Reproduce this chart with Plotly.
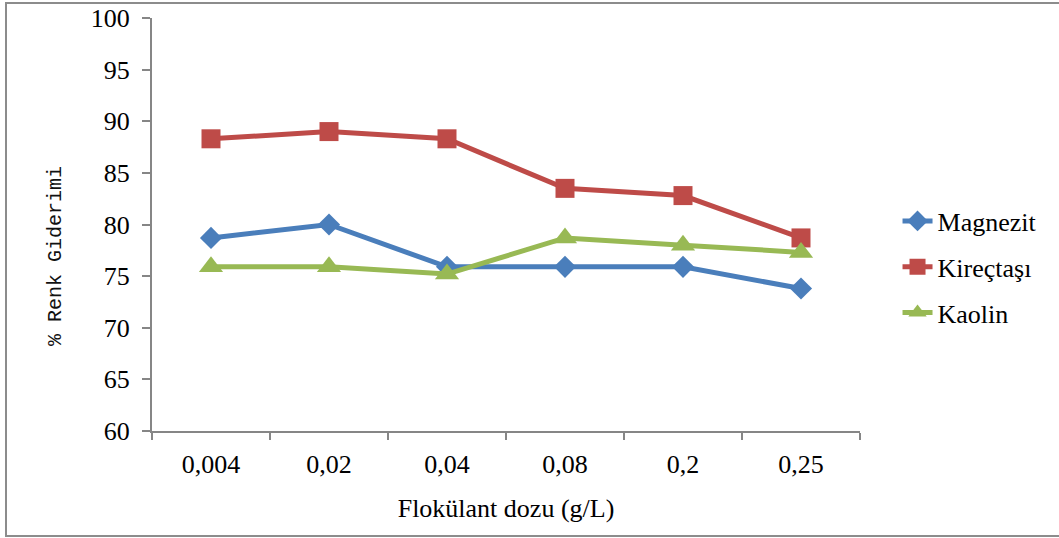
import plotly.graph_objects as go

categories = ["0,004", "0,02", "0,04", "0,08", "0,2", "0,25"]
magnezit = [78.7, 80.0, 75.9, 75.9, 75.9, 73.8]
kirectasi = [88.3, 89.0, 88.3, 83.5, 82.8, 78.7]
kaolin = [75.9, 75.9, 75.2, 78.7, 78.0, 77.3]
y_ticks = [60, 65, 70, 75, 80, 85, 90, 95, 100]

series = [
    ("Magnezit", magnezit, "#4A7EBB", "diamond", 17),
    ("Kireçtaşı", kirectasi, "#BE4B48", "square", 19),
    ("Kaolin", kaolin, "#98B954", "triangle-up", 21),
]

fig = go.Figure()
for name, vals, color, sym, size in series:
    fig.add_trace(go.Scatter(
        x=categories, y=vals, name=name, mode="lines+markers",
        legendgroup=name,
        line=dict(color=color, width=5),
        marker=dict(symbol=sym, size=size, color=color, line=dict(width=0)),
    ))

serif = "Liberation Serif"
axis_color = "#868686"

fig.update_layout(
    width=1059, height=538,
    margin=dict(l=152, r=199, t=18, b=107),
    paper_bgcolor="white", plot_bgcolor="white",
    font=dict(family=serif, size=26, color="black"),
    showlegend=True,
    legend=dict(
        x=1.053, xanchor="left", y=(431 - 267) / 413, yanchor="middle",
        font=dict(family=serif, size=26, color="black"),
        tracegroupgap=9, traceorder="grouped",
        bgcolor="rgba(0,0,0,0)",
    ),
    xaxis=dict(
        type="category", categoryorder="array", categoryarray=categories,
        range=[-0.5, 5.5], tickson="boundaries",
        showline=True, linecolor=axis_color, linewidth=2,
        ticks="outside", ticklen=7, tickcolor=axis_color, tickwidth=2,
        ticklabelstandoff=9,
        showgrid=False, zeroline=False, automargin=False,
        tickfont=dict(family=serif, size=26),
        title=dict(text="Flokülant dozu (g/L)", font=dict(family=serif, size=26), standoff=21),
    ),
    yaxis=dict(
        range=[60, 100], tickvals=y_ticks,
        showline=True, linecolor=axis_color, linewidth=2,
        ticks="outside", ticklen=8, tickcolor=axis_color, tickwidth=2,
        ticklabelstandoff=7,
        showgrid=False, zeroline=False, automargin=False,
        tickfont=dict(family=serif, size=26),
    ),
    shapes=[dict(
        type="rect", xref="paper", yref="paper",
        x0=(6 - 152) / 708, x1=(1070 - 152) / 708,
        y0=(431 - 536) / 413, y1=(431 - 3) / 413,
        line=dict(color="#8C8C8C", width=2), fillcolor="rgba(0,0,0,0)", layer="below",
    )],
    annotations=[dict(
        text="% Renk Giderimi", xref="paper", yref="paper",
        x=(55 - 152) / 708, y=(431 - 256) / 413, xanchor="center", yanchor="middle",
        textangle=-90, showarrow=False,
        font=dict(family="Liberation Mono", size=20, color="#111111"),
    )],
)

fig.write_html("out.html")
